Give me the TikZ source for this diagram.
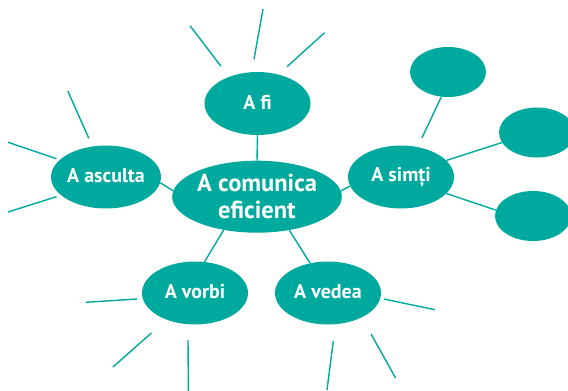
\documentclass[tikz,border=0pt]{standalone}
\usepackage{fontspec}
\setmainfont{PT Sans}
\usetikzlibrary{shapes.geometric}
\definecolor{teal1}{HTML}{00A99D}
\newcommand{\up}[1]{\raisebox{2.5pt}{#1}}
\tikzset{
  bub/.style={ellipse, fill=teal1, inner sep=0pt, text=white, font=\bfseries\fontsize{20}{22}\selectfont, align=center},
  small/.style={bub, minimum width=106pt, minimum height=63pt},
  empty/.style={bub, minimum width=76pt, minimum height=50pt},
  big/.style={bub, minimum width=166pt, minimum height=72pt, font=\bfseries\fontsize{24.5}{26.5}\selectfont},
  link/.style={draw=teal1, line width=1.4pt}
}
\begin{document}
\begin{tikzpicture}[x=1pt,y=-1pt]
\useasboundingbox (0,0) rectangle (568,391);
\node[big] (c) at (257,196.7) {A comunica\\eficient};
\node[small] (fi) at (257.5,103.5) {\up{A fi}};
\node[small] (as) at (106,177) {\up{A asculta}};
\node[small] (si) at (401,177) {\up{A simți}};
\node[small] (vo) at (195,293) {\up{A vorbi}};
\node[small] (ve) at (328,293) {\up{A vedea}};
\node[empty] (e1) at (448,72) {};
\node[empty] (e2) at (537,132.5) {};
\node[empty] (e3) at (533,216) {};
% connectors
\draw[link] (fi.south) -- (c.north);
\draw[link] (as.-6) -- (c.176);
\draw[link] (si.190) -- (c.4);
\draw[link] (vo.73) -- (c.-135);
\draw[link] (ve.121) -- (c.-46);
\draw[link, shorten <=10pt] (si.61) -- (e1.255);
\draw[link] (si.20) -- (e2.196);
\draw[link] (si.-20) -- (e3.171);
% rays
\coordinate (a1) at (190,25.7);  \coordinate (a2) at (221,66.3);
\coordinate (b1) at (263,9);     \coordinate (b2) at (254,59.3);
\coordinate (d1) at (324.6,32.7);\coordinate (d2) at (287,66.7);
\coordinate (f1) at (67.8,91);   \coordinate (f2) at (88.8,138.3);
\coordinate (g1) at (8,142.3);   \coordinate (g2) at (56.5,158.7);
\coordinate (h1) at (8,212);     \coordinate (h2) at (56.5,196.7);
\coordinate (i1) at (86,302.3);  \coordinate (i2) at (137.3,299);
\coordinate (j1) at (113,367);   \coordinate (j2) at (151.4,333);
\coordinate (k1) at (188.4,391); \coordinate (k2) at (188,340);
\coordinate (l1) at (384,299);   \coordinate (l2) at (434.8,309.7);
\coordinate (m1) at (371,334);   \coordinate (m2) at (395.6,378);
\coordinate (n1) at (333.3,341); \coordinate (n2) at (327,390);
\foreach \p in {a,b,d,f,g,h,i,j,k,l,m,n}{\draw[link] (\p1) -- (\p2);}
\end{tikzpicture}
\end{document}
